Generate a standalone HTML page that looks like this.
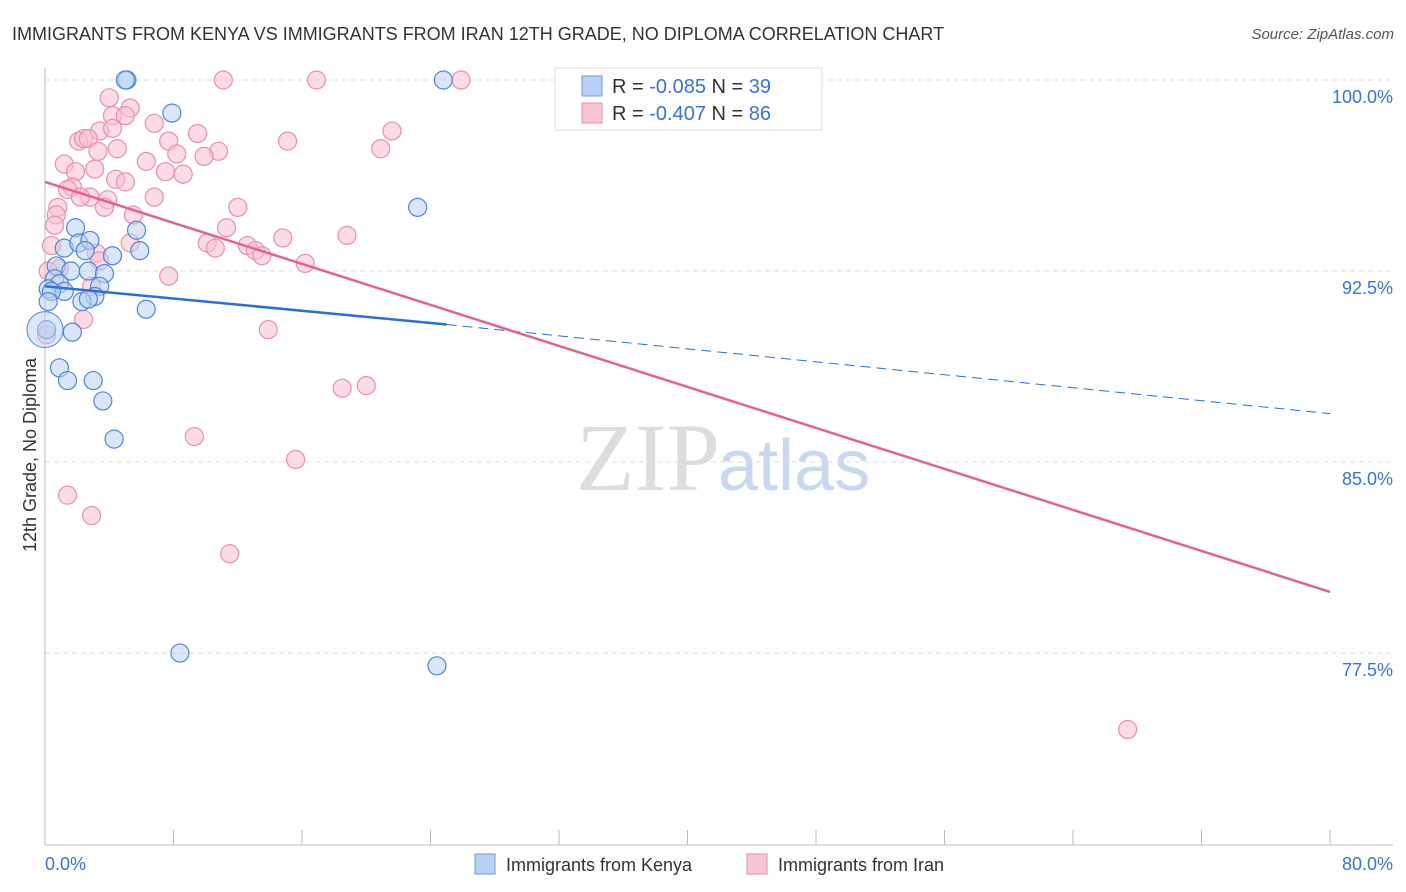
<!DOCTYPE html>
<html><head><meta charset="utf-8"><style>
body{margin:0;background:#fff;font-family:"Liberation Sans",sans-serif;}
svg{display:block}
</style></head><body>
<svg id="chart" width="1406" height="892" xmlns="http://www.w3.org/2000/svg">
<text x="12" y="40" font-size="18" fill="#333">IMMIGRANTS FROM KENYA VS IMMIGRANTS FROM IRAN 12TH GRADE, NO DIPLOMA CORRELATION CHART</text>
<text x="1394" y="39" font-size="15" fill="#555" font-style="italic" text-anchor="end">Source: ZipAtlas.com</text>
<text x="720" y="490" font-size="96" fill="#ddd" text-anchor="end" font-family="Liberation Serif,serif">ZIP</text>
<text x="718" y="490" font-size="72" fill="#c8d8f0">atlas</text>
<g id="grid"></g>
<g id="axes"></g>
<g id="points"></g>
<g id="trends"></g>
<text x="36" y="455" font-size="18" fill="#333" text-anchor="middle" transform="rotate(-90 36 455)">12th Grade, No Diploma</text>
<text x="45" y="870" font-size="18" fill="#3a74d0">0.0%</text>
<text x="1393" y="870" font-size="18" fill="#3a74d0" text-anchor="end">80.0%</text>
<g>
<rect x="555" y="68" width="267" height="62" fill="#fff" stroke="#ddd"/>
<rect x="582" y="76" width="20" height="20" fill="#b8d1f3" stroke="#6b9be0"/>
<rect x="582" y="103" width="20" height="20" fill="#f9c5d5" stroke="#ea8fac"/>
<text x="612" y="93" font-size="20" fill="#333">R = <tspan fill="#3a74d0">-0.085</tspan>   N = <tspan fill="#3a74d0">39</tspan></text>
<text x="612" y="120" font-size="20" fill="#333">R = <tspan fill="#3a74d0">-0.407</tspan>   N = <tspan fill="#3a74d0">86</tspan></text>
</g>
<g>
<rect x="475" y="854" width="20" height="20" fill="#b8d1f3" stroke="#6b9be0"/>
<text x="506" y="871" font-size="18" fill="#333">Immigrants from Kenya</text>
<rect x="747" y="854" width="20" height="20" fill="#f9c5d5" stroke="#ea8fac"/>
<text x="778" y="871" font-size="18" fill="#333">Immigrants from Iran</text>
</g>
</svg>
<script>
const yTicks=[100,92.5,85,77.5];
const yTickLabels=["100.0%","92.5%","85.0%","77.5%"];
const xTicks=[0,8,16,24,32,40,48,56,64,72,80];
const kenyaX=[5.1,5.0,24.8,7.9,23.2,1.9,5.7,1.2,2.1,2.8,2.5,4.2,5.9,0.7,1.6,2.7,3.7,0.6,0.9,0.2,1.2,0.4,3.4,3.1,2.3,2.7,0.2,6.3,1.7,0.1,0.9,1.4,3.0,3.6,4.3,8.4,24.4];
const kenyaY=[100,100,100,98.7,95.0,94.2,94.1,93.4,93.6,93.7,93.3,93.1,93.3,92.7,92.5,92.5,92.4,92.2,92.0,91.8,91.7,91.7,91.9,91.5,91.3,91.4,91.3,91.0,90.1,90.2,88.7,88.2,88.2,87.4,85.9,77.5,77.0];
const iranX=[11.1,16.9,25.9,4.0,5.3,4.2,5.0,6.8,3.4,4.2,2.1,2.4,2.7,7.7,9.5,15.1,21.6,20.9,10.8,3.3,4.5,1.2,6.3,8.2,9.9,1.9,3.1,7.5,8.6,1.7,1.4,2.8,4.4,5.0,3.9,2.2,6.8,3.7,0.8,0.7,5.5,12.0,0.6,11.3,14.8,18.8,10.1,10.6,12.6,13.1,13.5,0.4,3.2,5.3,16.2,3.4,0.9,0.2,7.7,2.9,2.4,13.9,0.1,18.5,20.0,9.3,15.6,1.4,2.9,11.5,67.4];
const iranY=[100,100,100,99.3,98.9,98.6,98.6,98.3,98.0,98.1,97.6,97.7,97.7,97.6,97.9,97.6,98.0,97.3,97.2,97.2,97.3,96.7,96.8,97.1,97.0,96.4,96.5,96.4,96.3,95.8,95.7,95.4,96.1,96.0,95.3,95.4,95.4,95.0,95.0,94.7,94.7,95.0,94.3,94.2,93.8,93.9,93.6,93.4,93.5,93.3,93.1,93.5,93.2,93.6,92.8,92.9,92.6,92.5,92.3,91.9,90.6,90.2,90.0,87.9,88.0,86.0,85.1,83.7,82.9,81.4,74.5];
const kenyaTrendX=[0,25,80];
const kenyaTrendY=[91.9,90.4,86.9];
const iranTrendX=[0,80];
const iranTrendY=[96.0,79.9];
const X0=45,X1=1330,Y100=80,PX_PER=25.47;
function sx(v){return X0+(v/80)*(X1-X0);}
function sy(v){return Y100+(100-v)*PX_PER;}
const NS="http://www.w3.org/2000/svg";
function mk(tag,attrs,parent){const e=document.createElementNS(NS,tag);for(const k in attrs)e.setAttribute(k,attrs[k]);document.getElementById(parent).appendChild(e);return e;}
yTicks.forEach((t,i)=>{
 const l=mk('line',{x1:45,x2:1393,y1:sy(t),y2:sy(t),stroke:'#ddd','stroke-dasharray':'5,4'},'grid');
 
 
 const tx=mk('text',{x:1393,y:sy(t)+23,'font-size':18,fill:'#3a74d0','text-anchor':'end'},'grid');
 tx.textContent=yTickLabels[i];
 
 
});
const ya=mk('line',{x1:45,x2:45,y1:68,y2:845,stroke:'#bbb'},'axes');


const xa=mk('line',{x1:45,x2:1393,y1:845,y2:845,stroke:'#bbb'},'axes');


xTicks.forEach(t=>{
 const l=mk('line',{x1:sx(t),x2:sx(t),y1:830,y2:845,stroke:'#bbb'},'axes');
 
 
});
function pts(xs,ys,fill,stroke,name){
 xs.forEach((x,i)=>{
  const c=mk('circle',{cx:sx(x),cy:sy(ys[i]),r:9,fill:fill,'fill-opacity':0.55,stroke:stroke,'stroke-width':1.2},'points');
  
  
 });
}
pts(iranX,iranY,'#f8bfd0','#ea8fac','iran-point');
pts(kenyaX,kenyaY,'#b8d1f3','#4f86d8','kenya-point');
const big1=mk('circle',{cx:sx(0),cy:sy(90.2),r:18,fill:'#b8d1f3','fill-opacity':0.5,stroke:'#4f86d8'},'points');


const k1=mk('line',{x1:sx(kenyaTrendX[0]),y1:sy(kenyaTrendY[0]),x2:sx(kenyaTrendX[1]),y2:sy(kenyaTrendY[1]),stroke:'#2a6fd6','stroke-width':2.5},'trends');


const k2=mk('line',{x1:sx(kenyaTrendX[1]),y1:sy(kenyaTrendY[1]),x2:sx(kenyaTrendX[2]),y2:sy(kenyaTrendY[2]),stroke:'#2a6fd6','stroke-width':1,'stroke-dasharray':'10,6'},'trends');


const p1=mk('line',{x1:sx(iranTrendX[0]),y1:sy(iranTrendY[0]),x2:sx(iranTrendX[1]),y2:sy(iranTrendY[1]),stroke:'#e5628f','stroke-width':2.5},'trends');


</script>
</body></html>
